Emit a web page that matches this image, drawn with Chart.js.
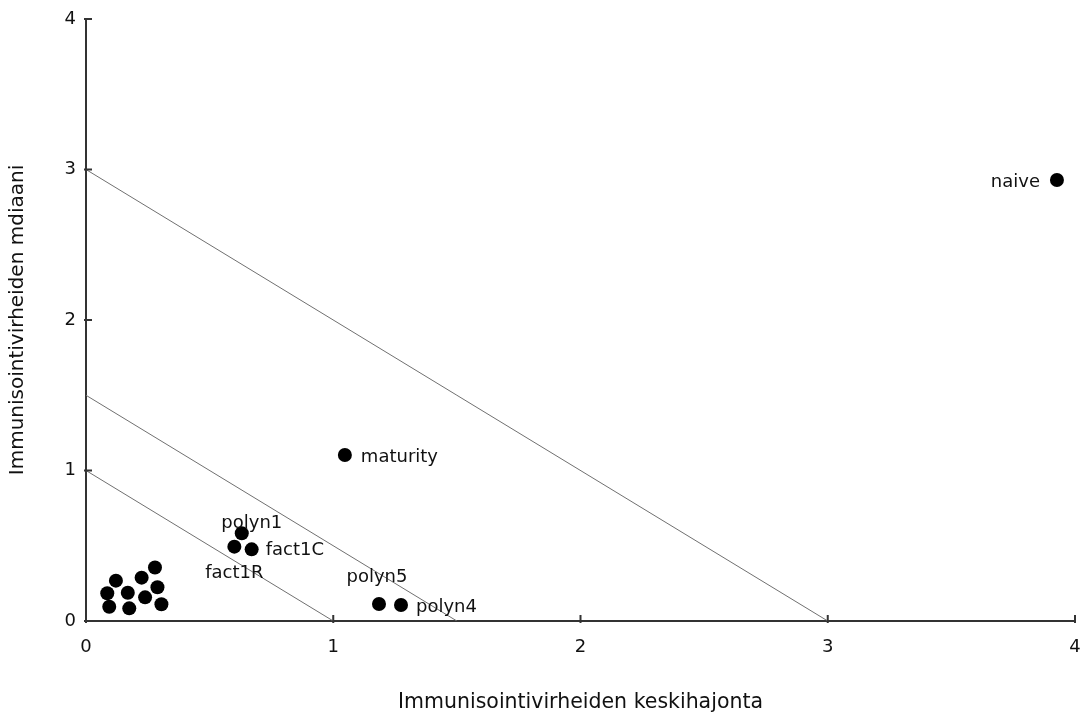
<!DOCTYPE html>
<html>
<head>
<meta charset="utf-8">
<script src="https://cdn.jsdelivr.net/npm/chart.js@4.4.1/dist/chart.umd.min.js"></script>
<style>
  html, body { margin: 0; padding: 0; background: #fff; }
  #wrap { width: 1083px; height: 713px; }
</style>
</head>
<body>
<div id="wrap"><canvas id="c" width="1083" height="713"></canvas></div>
<script>
// point names and values
const names = ['naive', 'maturity', 'polyn1', 'fact1C', 'fact1R', 'polyn5', 'polyn4',
  '', '', '', '', '', '', '', '', '', ''];
const xVals = [3.927, 1.047, 0.630, 0.670, 0.600, 1.185, 1.274,
  0.279, 0.121, 0.225, 0.086, 0.169, 0.289, 0.239, 0.094, 0.175, 0.305];
const yVals = [2.930, 1.103, 0.583, 0.476, 0.494, 0.113, 0.106,
  0.355, 0.268, 0.288, 0.184, 0.188, 0.224, 0.157, 0.095, 0.084, 0.111];
// diagonal reference lines x + y = c
const lineLevels = [3, 1.5, 1];
const ticks = [0, 1, 2, 3, 4];

// where each label sits relative to its point (px)
const labelPlace = [
  { dx: -17, dy: 2, align: 'right' },
  { dx: 16, dy: 2, align: 'left' },
  { dx: 10, dy: -10, align: 'center' },
  { dx: 14, dy: 1, align: 'left' },
  { dx: 0, dy: 27, align: 'center' },
  { dx: -2, dy: -27, align: 'center' },
  { dx: 15, dy: 2, align: 'left' }
];

const FONT = '"DejaVu Sans", sans-serif';

const points = xVals.map((x, i) => ({ x: x, y: yVals[i] }));

const datasets = lineLevels.map(c => ({
  type: 'line',
  data: [{ x: 0, y: c }, { x: c, y: 0 }],
  borderColor: '#707070',
  borderWidth: 1,
  pointRadius: 0,
  fill: false
}));
datasets.push({
  type: 'scatter',
  data: points,
  backgroundColor: '#000',
  borderColor: '#000',
  pointRadius: 7,
  borderWidth: 0
});

const labelPlugin = {
  id: 'pointLabels',
  afterDatasetsDraw(chart) {
    const ctx = chart.ctx;
    const xs = chart.scales.x, ys = chart.scales.y;
    ctx.save();
    ctx.font = '18px ' + FONT;
    ctx.fillStyle = '#111';
    ctx.textBaseline = 'middle';
    names.forEach((n, i) => {
      if (!n) return;
      const p = labelPlace[i];
      ctx.textAlign = p.align;
      ctx.fillText(n, xs.getPixelForValue(xVals[i]) + p.dx, ys.getPixelForValue(yVals[i]) + p.dy);
    });
    // inward tick marks
    ctx.strokeStyle = '#333';
    ctx.lineWidth = 2;
    ticks.forEach(t => {
      const px = xs.getPixelForValue(t);
      const py = ys.getPixelForValue(t);
      ctx.beginPath();
      ctx.moveTo(px, ys.bottom + 2);
      ctx.lineTo(px, ys.bottom - 6);
      ctx.moveTo(xs.left - 2, py);
      ctx.lineTo(xs.left + 6, py);
      ctx.stroke();
    });
    ctx.restore();
  }
};

new Chart(document.getElementById('c'), {
  data: { datasets: datasets },
  plugins: [labelPlugin],
  options: {
    responsive: false,
    animation: false,
    layout: { padding: { top: 19, right: 8, left: 0, bottom: 0 } },
    plugins: { legend: { display: false }, tooltip: { enabled: false } },
    scales: {
      x: {
        type: 'linear', min: 0, max: 4,
        afterFit(s) { s.height = 92; s.paddingRight = 0; s.paddingLeft = 0; },
        border: { color: '#333', width: 2 },
        grid: { display: false },
        ticks: { stepSize: 1, color: '#111', font: { family: FONT, size: 18 }, padding: 8 },
        title: { display: true, text: 'Immunisointivirheiden keskihajonta', color: '#111',
          font: { family: FONT, size: 20.5, lineHeight: 1 }, padding: { top: 20, bottom: 0 } }
      },
      y: {
        type: 'linear', min: 0, max: 4,
        afterFit(s) { s.width = 86; s.paddingTop = 0; s.paddingBottom = 0; },
        border: { color: '#333', width: 2 },
        grid: { display: false },
        ticks: { stepSize: 1, color: '#111', font: { family: FONT, size: 18 }, padding: 2 },
        title: { display: true, text: 'Immunisointivirheiden mdiaani', color: '#111',
          font: { family: FONT, size: 20 }, padding: { top: 6, bottom: 0 } }
      }
    }
  }
});
</script>
</body>
</html>
